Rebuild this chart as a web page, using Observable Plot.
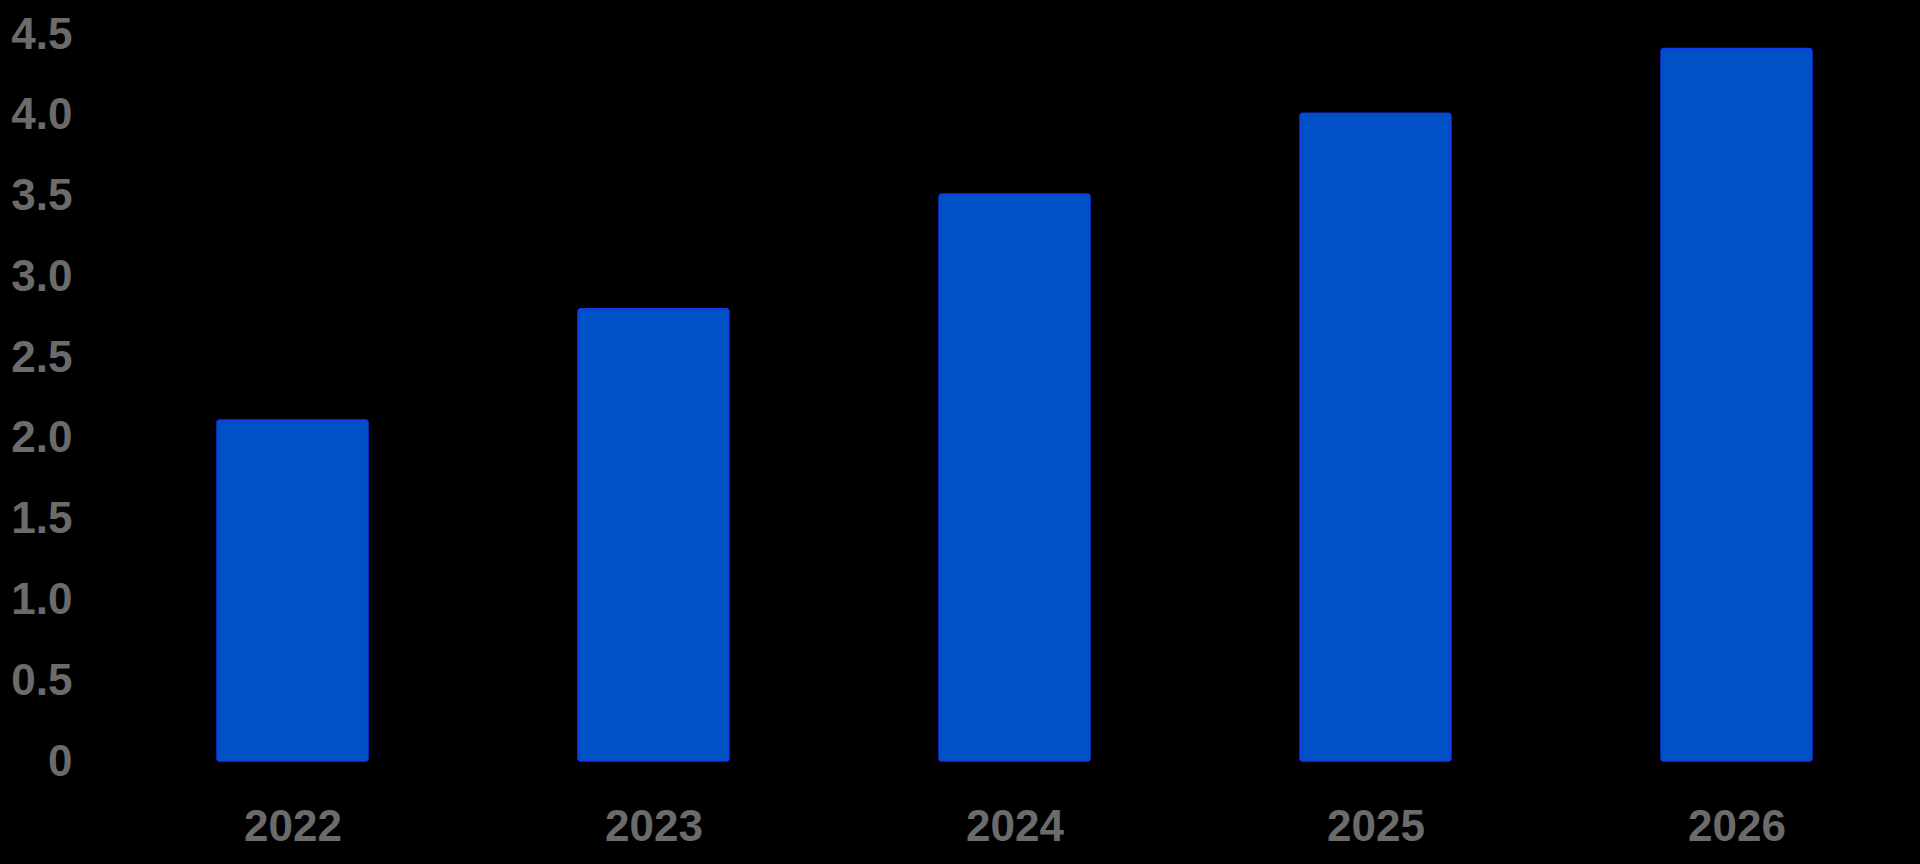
<!DOCTYPE html>
<html>
<head>
<meta charset="utf-8">
<script src="https://cdn.jsdelivr.net/npm/d3@7"></script>
<script src="https://cdn.jsdelivr.net/npm/@observablehq/plot@0.6"></script>
<style>
  html, body { margin: 0; padding: 0; background: #000; }
  #chart svg { display: block; }
</style>
</head>
<body>
<div id="chart"></div>
<script>
const years = ["2022", "2023", "2024", "2025", "2026"];
const values = [2.11, 2.80, 3.51, 4.01, 4.41];
const yTicks = [0, 0.5, 1.0, 1.5, 2.0, 2.5, 3.0, 3.5, 4.0, 4.5];
const yTickLabels = ["0", "0.5", "1.0", "1.5", "2.0", "2.5", "3.0", "3.5", "4.0", "4.5"];

const data = years.map((year, i) => ({year, value: values[i]}));

const chart = Plot.plot({
  width: 1920,
  height: 864,
  marginLeft: 109,
  marginRight: 0,
  marginTop: 34,
  marginBottom: 103,
  style: {
    background: "#000",
    color: "#6b6b6b",
    fontFamily: "'Liberation Sans', Arial, sans-serif",
    fontSize: "44px",
    fontWeight: "bold"
  },
  x: {
    domain: years,
    paddingInner: 0.583,
    paddingOuter: 0.293,
    label: null
  },
  y: {
    domain: [0, 4.5],
    label: null
  },
  marks: [
    Plot.barY(data, {
      x: "year",
      y: "value",
      fill: "#0050c6",
      stroke: "#1636f0",
      strokeWidth: 1.5,
      rx: 3
    }),
    Plot.axisX({
      tickSize: 0,
      tickPadding: 48,
      fill: "#6b6b6b",
      fontSize: 44,
      fontWeight: "bold",
      label: null
    }),
    Plot.axisY({
      ticks: yTicks,
      tickFormat: (d) => yTickLabels[yTicks.indexOf(d)],
      tickSize: 0,
      tickPadding: 37,
      fill: "#6b6b6b",
      fontSize: 44,
      fontWeight: "bold",
      label: null
    })
  ]
});

document.getElementById("chart").appendChild(chart);
</script>
</body>
</html>
